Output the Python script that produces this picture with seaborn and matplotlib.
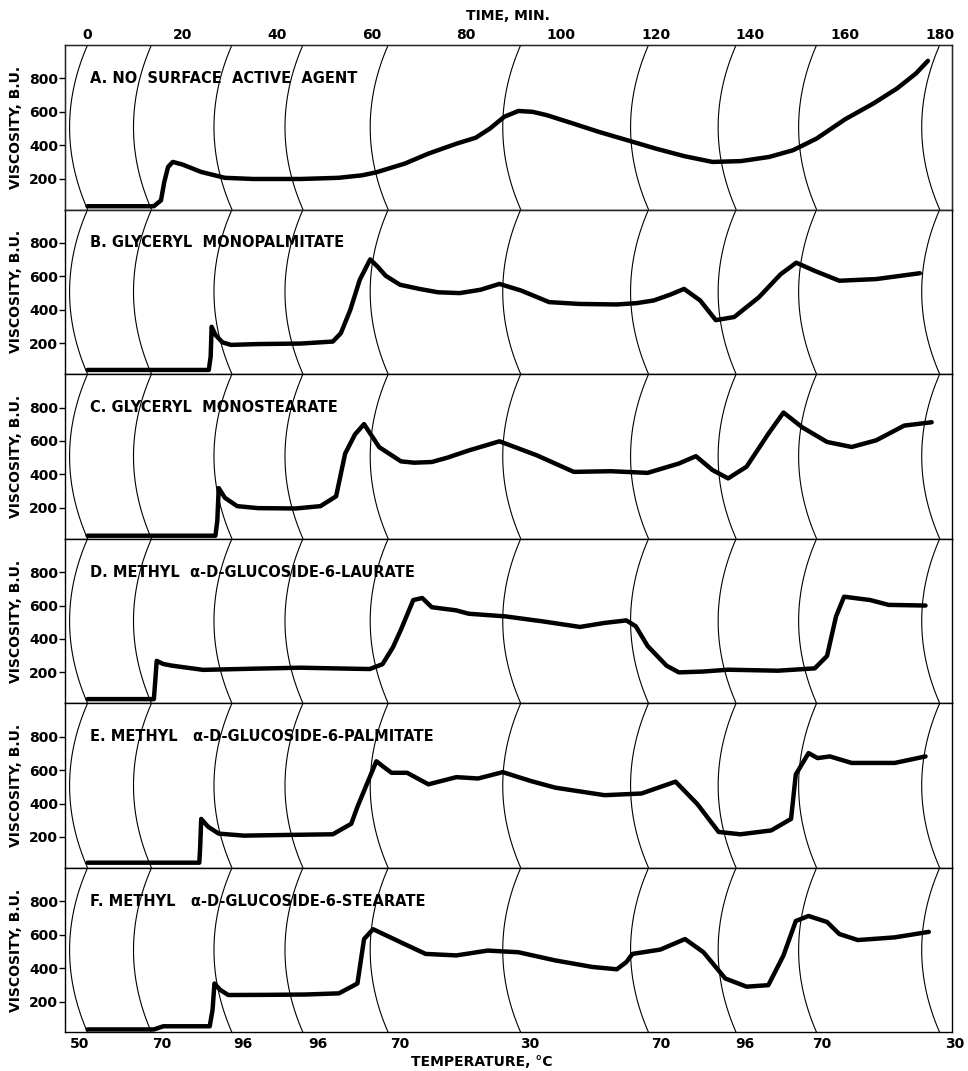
import numpy as np
import pandas as pd
import matplotlib
matplotlib.use("Agg")
import matplotlib.pyplot as plt
import seaborn as sns

sns.set_style("white")
plt.rcParams['font.family'] = ['DejaVu Sans']
plt.rcParams['font.weight'] = 'bold'
plt.rcParams['text.color'] = 'black'
plt.rcParams['axes.labelcolor'] = 'black'
plt.rcParams['xtick.color'] = 'black'
plt.rcParams['ytick.color'] = 'black'

# Brabender viscosity curves (time in min, viscosity in B.U.)
t_a = [0, 14, 15.5, 16.2, 17.0, 18, 20, 24, 29, 35, 45, 53, 58, 61, 67, 72, 78, 82, 85, 88, 91, 94, 97,
       102, 108, 114, 120, 126, 132, 138, 144, 149, 154, 160, 166, 171, 175, 177.5]
v_a = [35, 35, 70, 180, 270, 300, 285, 240, 205, 198, 198, 205, 220, 238, 290, 350, 410, 445, 500, 570, 605, 600, 580,
       535, 480, 430, 380, 335, 300, 305, 330, 370, 440, 555, 650, 740, 830, 905]

t_b = [0, 25.6, 26.0, 26.2, 27.0, 28.5, 30.3, 36, 45, 51.8, 53.5, 55.5, 57.5, 59.7, 61.2, 63, 66, 70.1, 74, 78.6, 83, 87,
       91.6, 97.5, 104, 111.8, 116, 119.6, 123, 126, 129.4, 132.7, 136.6, 141.8, 146.4, 149.7, 153.6, 158.8, 166.6, 175.8]
v_b = [40, 40, 120, 298, 250, 205, 190, 195, 198, 210, 260, 400, 580, 702, 660, 603, 550, 525, 505, 500, 520, 555,
       515, 446, 435, 432, 440, 456, 490, 525, 456, 338, 357, 475, 613, 682, 633, 574, 584, 619]

t_c = [0, 27.0, 27.4, 27.7, 29, 31.6, 36, 44, 49.2, 52.5, 54.4, 56.5, 58.4, 61.6, 66.2, 69, 72.7, 76, 80.5, 87, 94.9,
       102.7, 110.5, 118.3, 124.9, 128.5, 132, 135.3, 139.2, 143.8, 147, 151, 156.2, 161.4, 166.6, 172.5, 178.3]
v_c = [33, 33, 120, 318, 260, 210, 198, 196, 210, 269, 524, 640, 701, 563, 478, 470, 474, 500, 543, 598, 514,
       415, 419, 409, 465, 509, 426, 376, 446, 643, 770, 681, 594, 564, 604, 692, 712]

t_d = [0, 14.0, 14.3, 14.6, 16, 17.9, 24.4, 35, 45, 52, 59.6, 62.3, 64.5, 66.2, 68.8, 70.7, 72.7, 77.9, 80.5, 88.3,
       96.2, 104, 109.2, 113.8, 115.8, 118.3, 122.3, 124.9, 130, 135.3, 145.8, 153.6, 156.2, 158.1, 159.8, 165.3,
       169.2, 177]
v_d = [40, 40, 150, 269, 250, 240, 215, 222, 228, 224, 220, 249, 350, 456, 633, 645, 590, 571, 551, 535,
       505, 472, 496, 511, 476, 358, 240, 200, 205, 216, 210, 224, 298, 535, 653, 633,
       604, 600]

t_e = [0, 23.6, 23.8, 24.0, 25.5, 27.7, 33, 42, 51.8, 55.7, 57, 58.4, 61, 62.5, 64.2, 67.5, 72, 77.9, 82.5, 87.7,
       93.6, 98.8, 109.2, 117, 124.2, 128.8, 133.3, 137.9, 144.4, 148.6, 149.6, 152.3, 154.2, 156.8, 161.4, 170.5,
       177]
v_e = [46, 46, 150, 308, 260, 220, 208, 212, 216, 279, 380, 476, 653, 620, 584, 584, 515, 558, 550, 588,
       535, 495, 450, 460, 531, 397, 230, 216, 239, 308, 574, 702, 672, 682, 643, 643,
       682]

t_f = [0, 14, 16, 25.8, 26.4, 26.8, 28, 29.7, 38, 46, 53.1, 57, 58.4, 60.3, 66.2, 71.4, 77.9, 84.5, 91, 98.8, 106.6,
       111.8, 113.8, 115.1, 121, 126.2, 130.1, 134.7, 139.2, 143.8, 147, 149.6, 152.3, 156.2, 158.8, 162.7, 170.5,
       177.7]
v_f = [33, 33, 52, 52, 150, 308, 270, 239, 240, 242, 249, 308, 574, 633, 554, 485, 476, 505, 495, 446, 407,
       393, 436, 485, 511, 574, 495, 338, 289, 298, 476, 682, 712, 676, 604, 568, 584,
       617]

curves = [(t_a, v_a), (t_b, v_b), (t_c, v_c), (t_d, v_d), (t_e, v_e), (t_f, v_f)]

panel_titles = [
    "A. NO  SURFACE  ACTIVE  AGENT",
    "B. GLYCERYL  MONOPALMITATE",
    "C. GLYCERYL  MONOSTEARATE",
    "D. METHYL  \u03b1-D-GLUCOSIDE-6-LAURATE",
    "E. METHYL   \u03b1-D-GLUCOSIDE-6-PALMITATE",
    "F. METHYL   \u03b1-D-GLUCOSIDE-6-STEARATE",
]

# chart-paper arcs (time where each temperature mark falls)
arc_times = [0, 13.5, 30.5, 45.5, 63.5, 91.5, 118.5, 137, 154, 180]
time_ticks = [0, 20, 40, 60, 80, 100, 120, 140, 160, 180]
temp_labels = ["50", "70", "96", "96", "70", "30", "70", "96", "70", "30"]
temp_pos = [-1.7, 15.6, 32.7, 48.6, 65.9, 93.4, 121.1, 138.8, 155.1, 183.2]
visc_ticks = [200, 400, 600, 800]

ylo, yhi = 15, 1000
xlo, xhi = -4.8, 182.5

fig, axes = plt.subplots(6, 1, figsize=(9.68, 10.71), dpi=100, sharex=True)
plt.subplots_adjust(left=0.067, right=0.983, top=0.958, bottom=0.036, hspace=0)

vv = np.linspace(ylo, yhi, 80)
vm, vh = (ylo + yhi) / 2, (yhi - ylo) / 2
for i, ax in enumerate(axes):
    # arcs of the recording paper
    for t0 in arc_times:
        tt = t0 - 3.8 * (1 - ((vv - vm) / vh) ** 2)
        ax.plot(tt, vv, color="black", lw=0.8)
    t, v = curves[i]
    df = pd.DataFrame({"time": t, "visc": v})
    sns.lineplot(data=df, x="time", y="visc", ax=ax, color="black", lw=3.2,
                 sort=False, estimator=None, solid_capstyle="round", solid_joinstyle="round")
    ax.text(0.5, 800, panel_titles[i], fontsize=10.5, fontweight="bold", va="center", ha="left")
    ax.set_xlim(xlo, xhi)
    ax.set_ylim(ylo, yhi)
    ax.set_yticks(visc_ticks)
    ax.set_yticklabels([str(x) for x in visc_ticks], fontsize=10, fontweight="bold")
    ax.tick_params(axis="y", direction="out", length=4, width=1, pad=1, left=True)
    ax.tick_params(axis="x", bottom=False, labelbottom=False)
    ax.set_ylabel("VISCOSITY, B.U.", fontsize=10, fontweight="bold", labelpad=4)
    ax.set_xlabel("")
    for s in ax.spines.values():
        s.set_color("black")
        s.set_linewidth(1.0)

# time axis on top
top = axes[0].twiny()
top.set_xlim(xlo, xhi)
top.set_xticks(time_ticks)
top.set_xticklabels([str(x) for x in time_ticks], fontsize=10, fontweight="bold")
top.tick_params(axis="x", length=0, pad=2)
top.set_xlabel("TIME, MIN.", fontsize=10, fontweight="bold", labelpad=6)

# temperature labels at the bottom
axb = axes[-1]
for lab, p in zip(temp_labels, temp_pos):
    axb.text(p, -0.025, lab, transform=axb.get_xaxis_transform(), ha="center", va="top",
             fontsize=10, fontweight="bold", clip_on=False)
axb.text(0.47, -0.135, "TEMPERATURE, \u00b0C", transform=axb.transAxes, ha="center", va="top",
         fontsize=10, fontweight="bold")

fig.savefig("out.png", dpi=100, facecolor="white")
